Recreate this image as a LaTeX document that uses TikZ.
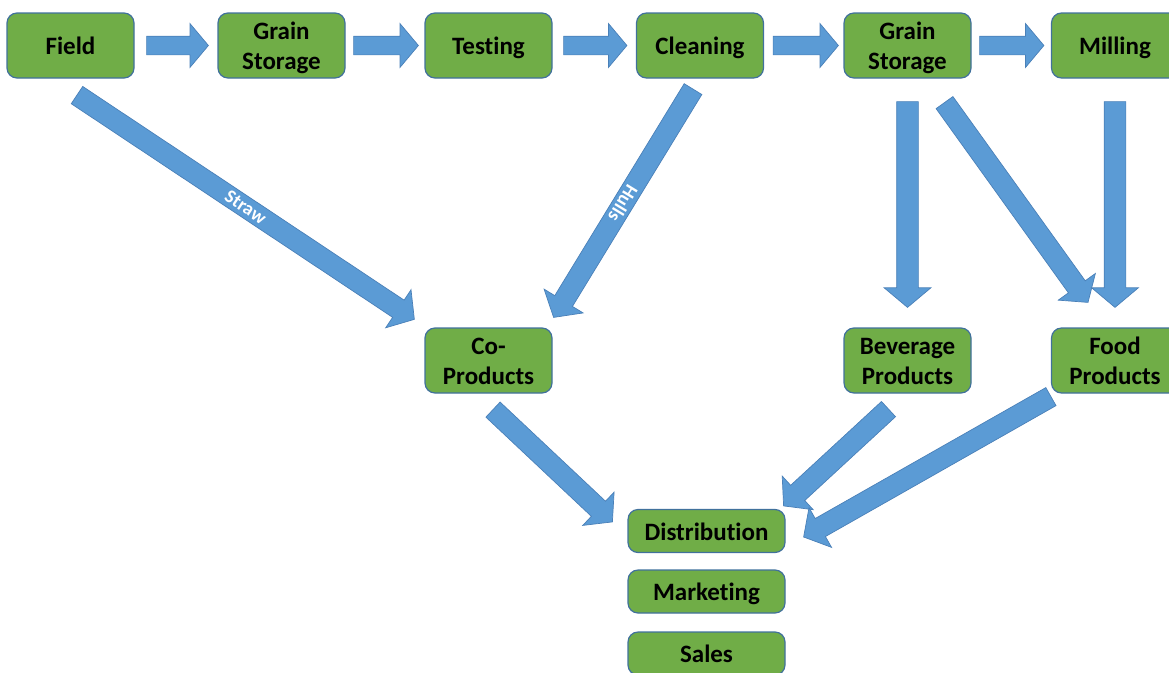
\documentclass[tikz,border=0pt]{standalone}
\usepackage{fontspec}
\setmainfont[Ligatures=NoCommon]{Carlito}
\usetikzlibrary{calc,shapes.arrows}
\definecolor{boxgreen}{HTML}{70AD47}
\definecolor{boxline}{HTML}{41719C}
\definecolor{arrowblue}{HTML}{5B9BD5}
\definecolor{arrowline}{HTML}{4A80B8}
\newcommand\bt[1]{\raisebox{-3pt}[\height][\depth]{\begin{tabular}{@{}c@{}}#1\end{tabular}}}
\tikzset{
  box/.style={draw=boxline, fill=boxgreen, line width=1.2pt, rounded corners=10pt,
    minimum width=127pt, minimum height=65pt, inner sep=0pt,
    font=\fontsize{25}{30}\selectfont\bfseries, text=black},
  smallbox/.style={box, minimum width=157pt, minimum height=43pt},
  blockarrow/.style={single arrow, draw=arrowline, fill=arrowblue, line width=0.7pt,
    inner xsep=0pt, inner ysep=#1, single arrow head extend=12.5pt,
    single arrow tip angle=100, minimum width=0pt, outer sep=0pt},
  blockarrow/.default=10pt,
  arrowlabel/.style={font=\fontsize{19}{21}\selectfont\bfseries, text=white, inner sep=0pt}
}
% #1 name, #2 shaft half width, #3 start, #4 end
\newcommand\barrow[4]{%
  \path let \p1=(#3), \p2=(#4), \n1={atan2(\y2-\y1,\x2-\x1)}, \n2={veclen(\x2-\x1,\y2-\y1)} in
    node[blockarrow=#2, minimum height=\n2, rotate=\n1, anchor=tail] (#1) at (\p1) {};
}
% #1 name, #2 text, #3 start, #4 end
\newcommand\alabel[4]{%
  \path let \p1=(#3), \p2=(#4), \n1={atan2(\y2-\y1,\x2-\x1)} in
    node[arrowlabel, rotate=\n1] (#1) at ($(\p1)!0.5!(\p2)$) {#2};
}
\begin{document}
\begin{tikzpicture}[x=1pt,y=-1pt]
\useasboundingbox (0,0) rectangle (1169,672);
\clip (0,0) rectangle (1169,672);
% top row
\node[box] (field)    at (70.5,45.5)  {\bt{Field}};
\node[box] (gs1)      at (281.5,45.5) {\bt{Grain\\Storage}};
\node[box] (testing)  at (488.5,45.5) {\bt{Testing}};
\node[box] (cleaning) at (700,45.5)   {\bt{Cleaning}};
\node[box] (gs2)      at (907.5,45.5) {\bt{Grain\\Storage}};
\node[box] (milling)  at (1115,45.5)  {\bt{Milling}};
% middle row
\node[box] (coprod) at (488.5,360.5) {\bt{Co-\\Products}};
\node[box] (bev)    at (907.5,360.5) {\bt{Beverage\\Products}};
\node[box] (food)   at (1115,360.5)  {\bt{Food\\Products}};
% bottom column
\node[smallbox] (dist)  at (706.5,531)   {\bt{Distribution}};
\node[smallbox] (mkt)   at (706.5,591.5) {\bt{Marketing}};
\node[smallbox] (sales) at (706.5,653.5) {\bt{Sales}};
% named end points
\coordinate (t1) at ($(field.east)+(12,0)$);   \coordinate (h1) at ($(gs1.west)+(-9,0)$);
\coordinate (t2) at ($(gs1.east)+(8,0)$);      \coordinate (h2) at ($(testing.west)+(-6,0)$);
\coordinate (t3) at ($(testing.east)+(11,0)$); \coordinate (h3) at ($(cleaning.west)+(-9,0)$);
\coordinate (t4) at ($(cleaning.east)+(9,0)$); \coordinate (h4) at ($(gs2.west)+(-5,0)$);
\coordinate (t5) at ($(gs2.east)+(8,0)$);      \coordinate (h5) at ($(milling.west)+(-7,0)$);
\coordinate (ts) at ($(field.south)+(6.5,16.5)$);   \coordinate (hs) at ($(coprod.north west)+(-10,-8)$);
\coordinate (th) at ($(cleaning.south)+(-7,10.5)$); \coordinate (hh) at ($(coprod.north east)+(1,-10)$);
\coordinate (tg) at ($(gs2.south)+(0,23)$);         \coordinate (hg) at ($(bev.north)+(0,-20)$);
\coordinate (td) at ($(gs2.south)+(37,24)$);        \coordinate (hd) at ($(food.north)+(-27,-25)$);
\coordinate (tm) at ($(milling.south)+(0,23)$);     \coordinate (hm) at ($(food.north)+(0,-20)$);
\coordinate (tc) at ($(coprod.south)+(4.5,16)$);    \coordinate (hc) at ($(dist.north west)+(-15,13)$);
\coordinate (tb) at ($(bev.south)+(-19,15.5)$);     \coordinate (hb) at ($(dist.north east)+(-2,-3)$);
\coordinate (tf) at ($(food.south west)+(0,3)$);    \coordinate (hf) at ($(dist.east)+(18,6)$);
% horizontal arrows
\barrow{a1}{9pt}{t1}{h1}
\barrow{a2}{9pt}{t2}{h2}
\barrow{a3}{9pt}{t3}{h3}
\barrow{a4}{9pt}{t4}{h4}
\barrow{a5}{9pt}{t5}{h5}
% other arrows
\barrow{a6}{10pt}{ts}{hs}
\barrow{a7}{10pt}{th}{hh}
\barrow{a8}{10.5pt}{tg}{hg}
\barrow{a9}{10pt}{td}{hd}
\barrow{a10}{10.5pt}{tm}{hm}
\barrow{a11}{10pt}{tc}{hc}
\barrow{a12}{10pt}{tb}{hb}
\barrow{a13}{10pt}{tf}{hf}
% labels
\alabel{lstraw}{Straw}{ts}{hs}
\alabel{lhulls}{Hulls}{th}{hh}
\end{tikzpicture}
\end{document}
